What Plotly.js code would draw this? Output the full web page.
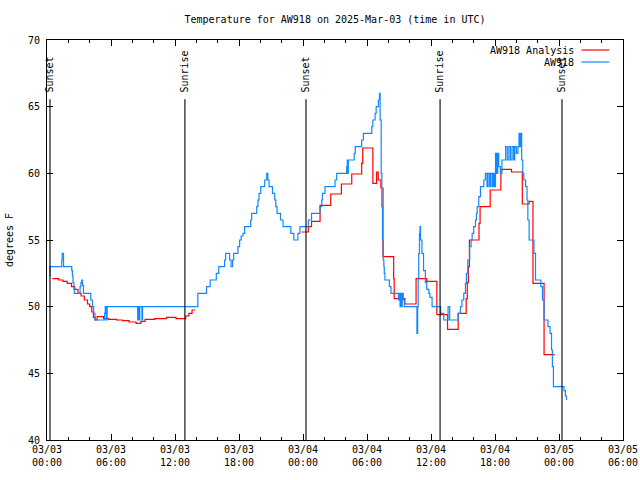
<!DOCTYPE html>
<html>
<head>
<meta charset="utf-8">
<script src="https://cdn.plot.ly/plotly-3.0.1.min.js"></script>
<style>html,body{margin:0;padding:0;background:#fff;}#chart{width:640px;height:480px;}</style>
</head>
<body>
<div id="chart"></div>
<script>
// ---- data (hours after 2025-03-03 00:00 UTC) ----
const chartTitle = "Temperature for AW918 on 2025-Mar-03 (time in UTC)";
const yTitle = "degrees F";
const analysisName = "AW918 Analysis";
const stationName = "AW918";

const analysisHours = [0.5,1.1,1.5,1.9,2.3,2.6,2.9,3.2,3.5,3.8,4.0,4.2,4.35,4.5,4.7,5.3,5.8,6.5,7.1,7.7,8.35,8.8,9.2,10.1,11.2,12.1,13.0,13.3,13.6,13.9,
  14.0,
  23.87,24.5,24.8,25.6,26.6,27.6,28.57,29.5,29.6,30.55,30.9,31.05,31.3,31.5,32.5,32.55,33.55,34.6,35.6,36.55,37.55,38.55,39.3,39.4,39.5,39.6,40.5,40.6,41.55,42.55,43.55,44.56,45.2,45.56,46.6,47.6];
const analysisTemps = [52.1,52.0,51.9,51.75,51.5,51.3,51.0,50.8,50.5,50.2,50.0,49.6,49.2,49.0,49.25,49.1,49.05,49.0,48.95,48.85,48.75,48.9,49.05,49.1,49.2,49.1,49.3,49.5,49.75,49.75,
  null,
  55.6,56.0,56.4,57.6,58.45,59.2,59.95,60.75,61.9,59.25,60.1,59.5,58.9,53.75,52.1,50.6,50.2,52.1,51.9,49.4,48.3,49.5,50.6,51.8,53.0,55.0,56.25,57.5,58.75,60.3,60.1,57.7,57.9,51.75,46.4,46.4];

const stationHours = [0.25,0.28,1.38,1.42,1.55,2.32,2.38,2.44,2.52,2.56,3.10,3.18,3.26,3.33,3.42,4.10,4.26,4.38,4.50,5.40,5.46,5.56,5.64,8.50,8.58,8.64,8.70,8.90,8.96,
  14.14,14.96,15.30,15.87,16.10,16.65,16.75,17.12,17.26,17.40,17.50,17.90,18.06,18.20,18.37,18.53,19.10,19.19,19.66,19.78,19.88,20.04,20.41,20.60,20.70,20.82,21.14,21.35,21.45,21.57,21.89,22.13,22.86,23.14,23.52,23.71,
  24.50,24.80,25.60,25.75,25.82,26.06,27.00,27.16,28.10,28.15,28.20,28.25,28.80,28.90,29.50,29.66,30.45,30.55,30.76,30.86,31.07,31.17,31.23,31.33,31.39,31.45,31.52,31.58,31.62,31.68,32.10,32.25,32.95,33.00,33.10,33.15,33.25,33.30,33.40,33.50,
  34.68,34.75,34.80,34.85,34.92,34.97,35.02,35.15,35.30,35.47,35.60,35.80,35.90,36.10,36.90,37.20,37.60,37.75,38.55,38.76,38.90,39.07,39.23,39.32,39.45,39.63,39.76,39.86,40.00,40.17,40.26,40.33,40.48,40.64,40.95,
  41.10,41.25,41.35,41.50,41.60,41.75,41.85,41.95,42.05,42.15,42.25,42.35,42.50,42.65,43.00,43.15,43.30,43.45,43.60,43.75,43.85,44.00,44.15,44.25,44.35,44.40,44.50,44.60,44.70,44.87,45.00,45.08,45.20,45.65,45.80,
  46.30,46.45,46.60,46.97,47.16,47.30,47.38,47.48,48.47,48.60,48.70];
const stationTemps = [52.3,53,53.5,54,53,52.7,52.3,51.8,51.3,51,51.5,51.8,52,51.6,51,50.5,50,49.5,49,49.5,50,49,50,49,50,49,50,49,50,
  51,51.5,52,52.5,53,53.5,54,53.5,53,53.5,54,54.5,55,55.3,55.5,56,56.5,57,57.5,58,58.5,59,59.5,60,59.5,59,58.5,58,57.5,57,56.5,56,55.5,55,55.5,56,
  56.5,57,57.5,58,58.5,59,59.5,60,60.5,61,60,61,61.5,62,62.5,63,63.5,64,64.5,65,65.5,66,64,60,57.5,55,53.5,53,52.5,52,51.5,51,50.5,51,50,51,50,51,50.5,50,
  48,50,52,54,55.5,56,55,54,52.7,51.8,51.3,51,50.7,50,49.5,49,50,49,49.5,50,50.5,51,51.75,52.5,53.5,54.5,55,55.5,56,56.5,57,57.5,58.25,59,59.5,
  60,59,60,59,60,59,60,59,61.5,60,61.5,60.5,60,61,62,61,62,61,62,61,62,61.5,62,63,62,63,61,60,59.5,59,58,56.5,55,54,52,
  51.5,50.5,49,48.5,48,46.75,45.5,44,43.7,43.3,43];

const eventNames = ["Sunset","Sunrise","Sunset","Sunrise","Sunset"];
const eventHours = [0.28,12.93,24.28,36.85,48.28];

const xStart = "2025-03-03 00:00";
const xEnd = "2025-03-05 06:00";

// ---- helpers ----
const base = Date.UTC(2025,2,3);
function toTime(h){
  if (h === null) return null;
  const d = new Date(base + Math.round(h*3600000));
  return d.toISOString().slice(0,19).replace('T',' ');
}
const FONT = {family: "DejaVu Sans Mono, monospace", size: 10, color: "#000"};
const RED = "#ff0000", BLUE = "#1188ff";

const traces = [
  {x: analysisHours.map(toTime), y: analysisTemps, name: analysisName, type: "scatter", mode: "lines",
   line: {color: RED, width: 1.2, shape: "hv"}, connectgaps: false, showlegend: false},
  {x: stationHours.map(toTime), y: stationTemps, name: stationName, type: "scatter", mode: "lines",
   line: {color: BLUE, width: 1.2, shape: "hv"}, showlegend: false}
];

const shapes = eventHours.map(h => ({type: "line", xref: "x", yref: "paper", x0: toTime(h), x1: toTime(h),
  y0: 0, y1: 0.852, line: {color: "#000", width: 1.1}}));
const annotations = eventHours.map((h,i) => ({xref: "x", yref: "paper", x: toTime(h), y: 0.866,
  text: eventNames[i], textangle: -90, showarrow: false, xanchor: "center", yanchor: "bottom", font: FONT, borderpad: 0}));

// manual legend (text left of line sample, like the reference)
const legendItems = [{name: analysisName, color: RED, y: 0.975}, {name: stationName, color: BLUE, y: 0.945}];
legendItems.forEach(it => {
  annotations.push({xref: "paper", yref: "paper", x: 0.916, y: it.y, text: it.name, showarrow: false,
    xanchor: "right", yanchor: "middle", font: FONT, borderpad: 0});
  shapes.push({type: "line", xref: "paper", yref: "paper", x0: 0.928, x1: 0.976, y0: it.y, y1: it.y,
    line: {color: it.color, width: 1.2}});
});

const layout = {
  width: 640, height: 480,
  margin: {l: 47, r: 17, t: 40, b: 40, pad: 0},
  paper_bgcolor: "#fff", plot_bgcolor: "#fff",
  font: FONT,
  title: {text: chartTitle, font: FONT, x: 0.5, xref: "paper", xanchor: "center", y: 1 - 19/480, yanchor: "middle"},
  xaxis: {type: "date", range: [xStart, xEnd], tick0: xStart, dtick: 6*3600000, tickformat: "%m/%d<br>%H:%M",
    ticks: "inside", ticklen: 6, tickcolor: "#000", showline: true, linecolor: "#000", linewidth: 1, mirror: "ticks",
    showgrid: false, zeroline: false, tickfont: FONT,
    minor: {dtick: 2*3600000, ticks: "inside", ticklen: 3, tickcolor: "#000", showgrid: false}},
  yaxis: {range: [40, 70], dtick: 5, tick0: 40, ticks: "inside", ticklen: 6, tickcolor: "#000",
    showline: true, linecolor: "#000", linewidth: 1, mirror: "ticks", showgrid: false, zeroline: false,
    ticklabelstandoff: 4,
    tickfont: FONT, title: {text: yTitle, font: FONT, standoff: 12}},
  shapes: shapes,
  annotations: annotations,
  showlegend: false
};

Plotly.newPlot("chart", traces, layout, {staticPlot: true, displayModeBar: false});
</script>
</body>
</html>
